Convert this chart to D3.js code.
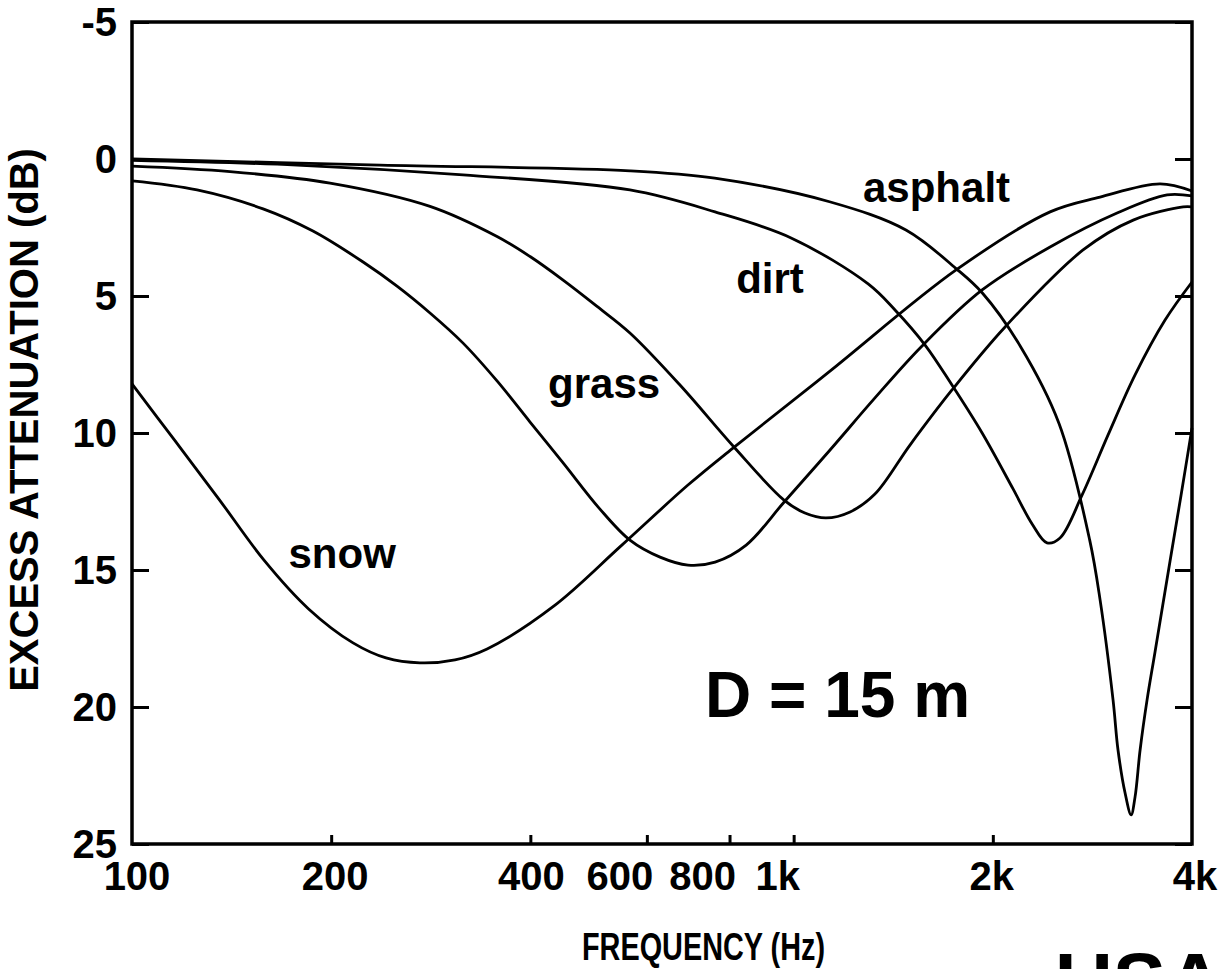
<!DOCTYPE html>
<html>
<head>
<meta charset="utf-8">
<title>Excess attenuation vs frequency</title>
<script src="https://d3js.org/d3.v7.min.js"></script>
<style>
  body { margin: 0; background: #fff; }
  text { font-family: "Liberation Sans", Arial, sans-serif; font-weight: bold; fill: #000; }
  .curve { fill: none; stroke: #000; stroke-width: 2.8px; }
</style>
</head>
<body>
<div id="chart"></div>
<script>
// values: [frequency Hz, excess attenuation dB]
var snow = [[100,8.21],[116.2,10.29],[135.3,12.41],[158.3,14.64],[184.9,16.42],[215.8,17.66],[242.1,18.21],[272.4,18.39],
  [307.7,18.28],[344.1,17.88],[434.4,16.31],[548.4,14.12],[692.2,11.9],[809.6,10.55],[1131,7.77],[1760,4.05],
  [2441,1.93],[2905,1.39],[3579,0.91],[4000,1.17]];
var grass = [[100,0.8],[125.4,1.13],[157.8,1.82],[187.7,2.63],[223.5,3.76],[251.5,4.64],[282.1,5.62],[316.5,6.72],
  [356.2,8.1],[399.6,9.6],[448.3,11.09],[508.1,12.74],[565.7,13.91],[628.2,14.53],[692.2,14.82],[760.8,14.71],
  [847.7,14.09],[970.5,12.48],[1135,10.62],[1327,8.72],[1558,6.86],[1927,4.78],[2441,3.21],[3082,1.97],[3668,1.31],[4000,1.35]];
var dirt = [[100,0.26],[140.7,0.46],[199.2,0.88],[282.1,1.73],[356.2,2.83],[399.6,3.56],[448.3,4.42],[504.5,5.38],
  [565.7,6.35],[673.3,8.25],[812.4,10.51],[967.1,12.45],[1040,12.92],[1119,13.1],[1217,12.88],[1327,12.23],
  [1499,10.44],[1735,8.43],[2087,6.13],[2738,3.32],[3260,2.23],[3879,1.75],[4000,1.75]];
var loam = [[100,0.05],[177.6,0.22],[316.5,0.58],[565.7,1.13],[760.8,1.93],[991.1,2.88],[1296,4.56],[1423,5.51],
  [1580,6.79],[1735,8.25],[1927,10.0],[2146,12.04],[2293,13.32],[2415,14.01],[2527,13.83],[2729,12.26],[2987,10.07],
  [3281,7.88],[3642,5.88],[4000,4.49]];
var asphalt = [[100,0],[237.1,0.22],[565.7,0.43],[759.9,0.7],[1133,1.56],[1478,2.59],[1758,3.99],[1930,4.9],[2203,6.85],
  [2518,9.65],[2802,13.91],[2905,16.09],[3039,19.74],[3092,21.57],[3169,23.14],[3236,23.94],[3281,23.28],[3339,21.57],
  [3421,19.74],[3517,17.99],[3706,14.67],[3851,12.26],[4000,9.82]];

var xTicks = [100, 200, 400, 600, 800, 1000, 2000, 4000];
var xTickLabels = ["100", "200", "400", "600", "800", "1k", "2k", "4k"];
var yTicks = [-5, 0, 5, 10, 15, 20, 25];

// label anchors (left end of the word, on its baseline) in data units
var groundNames = ["asphalt", "dirt", "grass", "snow"];
var groundAtF = [1273, 818.6, 425.4, 172.4];
var groundAtDb = [1.57, 4.89, 8.72, 14.93];

(function() {
  var width = 1221, height = 969;
  var mLeft = 132, mRight = 1192, mTop = 22, mBottom = 844;

  var svg = d3.select("#chart").append("svg")
    .attr("width", width).attr("height", height);

  svg.append("rect").attr("width", width).attr("height", height).attr("fill", "#fff");

  var x = d3.scaleLog().domain([100, 4000]).range([mLeft, mRight]);
  var y = d3.scaleLinear().domain([-5, 25]).range([mTop, mBottom]);

  var line = d3.line()
    .x(function(d) { return x(d[0]); })
    .y(function(d) { return y(d[1]); })
    .curve(d3.curveCatmullRom.alpha(0.5));

  //curves
  [snow, grass, dirt, loam, asphalt].forEach(function(s) {
    svg.append("path").attr("class", "curve").attr("d", line(s));
  });

  //inward ticks
  var yAxisL = d3.axisLeft(y).tickValues(yTicks).tickSize(-17).tickFormat("");
  var yAxisR = d3.axisRight(y).tickValues(yTicks).tickSize(-17).tickFormat("");
  var xAxisB = d3.axisBottom(x).tickValues(xTicks.slice(1, -1)).tickSize(-9).tickFormat("");

  [svg.append("g").attr("transform", "translate(" + mLeft + ",0)").call(yAxisL),
   svg.append("g").attr("transform", "translate(" + mRight + ",0)").call(yAxisR),
   svg.append("g").attr("transform", "translate(0," + mBottom + ")").call(xAxisB)].forEach(function(g) {
    g.select(".domain").remove();
    g.selectAll("line").attr("stroke", "#000").attr("stroke-width", 3);
  });

  //frame
  svg.append("rect")
    .attr("x", mLeft).attr("y", mTop)
    .attr("width", mRight - mLeft).attr("height", mBottom - mTop)
    .attr("fill", "none").attr("stroke", "#000").attr("stroke-width", 3.5);

  //y tick labels
  svg.selectAll(".ylab").data(yTicks).enter().append("text")
    .attr("class", "ylab")
    .attr("x", 117).attr("y", function(d) { return y(d) + 14; })
    .attr("text-anchor", "end")
    .attr("font-size", 40)
    .text(function(d) { return d; });

  //x tick labels, the crowded 600/800/1k ones pushed left like in the original
  var nudge = [5, 4, 1, -27, -27, -16, -1, 3];
  svg.selectAll(".xlab").data(xTicks).enter().append("text")
    .attr("class", "xlab")
    .attr("x", function(d, i) { return x(d) + nudge[i]; }).attr("y", 890)
    .attr("text-anchor", "middle")
    .attr("font-size", 40)
    .text(function(d, i) { return xTickLabels[i]; });

  //axis titles
  svg.append("text")
    .attr("transform", "translate(38,420)rotate(-90)")
    .attr("text-anchor", "middle")
    .attr("font-size", 40)
    .text("EXCESS ATTENUATION (dB)");

  svg.append("text")
    .attr("x", 582).attr("y", 960)
    .attr("font-size", 39)
    .attr("textLength", 243).attr("lengthAdjust", "spacingAndGlyphs")
    .text("FREQUENCY (Hz)");

  //curve labels
  svg.selectAll(".glab").data(groundNames).enter().append("text")
    .attr("class", "glab")
    .attr("x", function(d, i) { return x(groundAtF[i]); })
    .attr("y", function(d, i) { return y(groundAtDb[i]); })
    .attr("font-size", 42)
    .text(function(d) { return d; });

  svg.append("text")
    .attr("x", 705).attr("y", 717)
    .attr("font-size", 64)
    .text("D = 15 m");

  svg.append("text")
    .attr("x", 1055).attr("y", 1009)
    .attr("font-size", 80)
    .text("USA");
})();
</script>
</body>
</html>
